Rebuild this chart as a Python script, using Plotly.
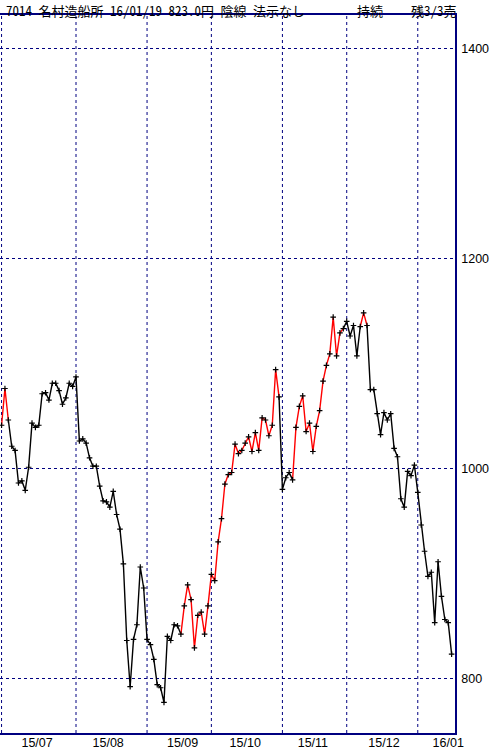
import plotly.graph_objects as go

# daily closes, 2015/07/01 .. 2016/01/19 (one value per trading day)
closes = [
    # 15/07
    1041, 1076, 1046, 1021, 1017, 986, 988, 979, 1001, 1043, 1039,
    1041, 1071, 1072, 1065, 1081, 1081, 1074, 1061, 1067, 1081, 1078,
    # 15/08
    1087, 1026, 1028, 1024, 1010, 1002, 1002, 983, 969, 968, 963,
    978, 956, 942, 909, 836, 792, 837, 851, 906, 886,
    # 15/09
    837, 832, 818, 794, 791, 777, 840, 836, 851, 850,
    842, 869, 889, 875, 829, 860, 863, 842, 869,
    # 15/10
    899, 893, 930, 952, 985, 994, 996, 1023, 1014, 1017, 1024,
    1030, 1016, 1034, 1017, 1048, 1046, 1031, 1041, 1094, 1068,
    # 15/11
    980, 991, 996, 989, 1039, 1059, 1069, 1035, 1043, 1016,
    1040, 1055, 1083, 1098, 1109, 1144, 1107, 1129, 1133,
    # 15/12
    1140, 1126, 1136, 1107, 1135, 1148, 1136, 1075, 1075, 1052, 1032,
    1053, 1046, 1052, 1019, 1011, 971, 963, 997, 993, 1003,
    # 16/01
    977, 946, 921, 897, 901, 853, 911, 878, 856, 853, 823,
]

month_labels = ["15/07", "15/08", "15/09", "15/10", "15/11", "15/12", "16/01"]
month_start = [0, 22, 43, 62, 83, 102, 123]   # index of first trading day
label_pos = [10.5, 31.5, 53.5, 72, 92, 113, 132]

# stretches drawn in red (start index, end index)
red_spans = [(0, 2), (53, 82), (86, 101), (106, 108)]

title_main = "7014 名村造船所 16/01/19 823.0円 陰線 法示なし"
title_mid = "持続"
title_right = "残3/3売"

NAVY = "#000080"
n = len(closes)
idx = list(range(n))

runs = []
pos = 0
for a, b in red_spans:
    if a > pos:
        runs.append((pos, a, "black"))
    runs.append((a, b, "red"))
    pos = b
if pos < n - 1:
    runs.append((pos, n - 1, "black"))

fig = go.Figure()
for a, b, col in runs:
    fig.add_trace(go.Scatter(
        x=idx[a:b + 1], y=closes[a:b + 1], mode="lines",
        line={"color": col, "width": 1.4}, hoverinfo="skip"))

fig.add_trace(go.Scatter(
    x=idx, y=closes, mode="markers",
    marker={"symbol": "cross-thin", "size": 4,
            "line": {"color": "black", "width": 1.2}},
    hoverinfo="skip"))

# month boundary grid lines
shapes = []
for m in month_start:
    shapes.append(dict(type="line", xref="x", yref="paper", x0=m, x1=m,
                       y0=0, y1=1, layer="below",
                       line={"color": NAVY, "width": 1, "dash": "3px,3px"}))

plot_w = 455
ann_font = {"family": "Noto Sans Mono CJK JP, Noto Sans CJK JP", "size": 13,
            "color": "black"}
annotations = []
for txt, px in [(title_main, 5), (title_mid, 356), (title_right, 410)]:
    annotations.append(dict(text=txt, xref="paper", yref="paper",
                            x=px / plot_w, y=1 + 15 / 718, xanchor="left",
                            yanchor="top", borderpad=0, showarrow=False,
                            font=ann_font))

fig.update_layout(
    width=492, height=749,
    margin=dict(l=0, r=37, t=15, b=16, pad=0, autoexpand=False),
    paper_bgcolor="white", plot_bgcolor="white",
    showlegend=False,
    shapes=shapes,
    annotations=annotations,
    font={"family": "Liberation Sans, Arial, sans-serif", "size": 12.5,
          "color": "black"},
    xaxis=dict(
        range=[-0.46, 134.0], tickvals=label_pos, ticktext=month_labels,
        showgrid=False, zeroline=False, ticks="", automargin=False,
        ticklabelstandoff=-3,
        showline=True, mirror=True, linecolor=NAVY, linewidth=1.5,
    ),
    yaxis=dict(
        range=[747.9, 1431.7], side="right",
        tickvals=[800, 1000, 1200, 1400], automargin=False,
        showgrid=True, gridcolor=NAVY, gridwidth=1, griddash="3px,3px",
        zeroline=False, ticks="", ticklabelstandoff=2,
        showline=True, mirror=False, linecolor=NAVY, linewidth=1.5,
    ),
)

# page has a default 8px body margin; drop it so the figure sits at 0,0
fig.write_html("out.html", config={"displayModeBar": False},
               post_script="document.body.style.margin='0';")
